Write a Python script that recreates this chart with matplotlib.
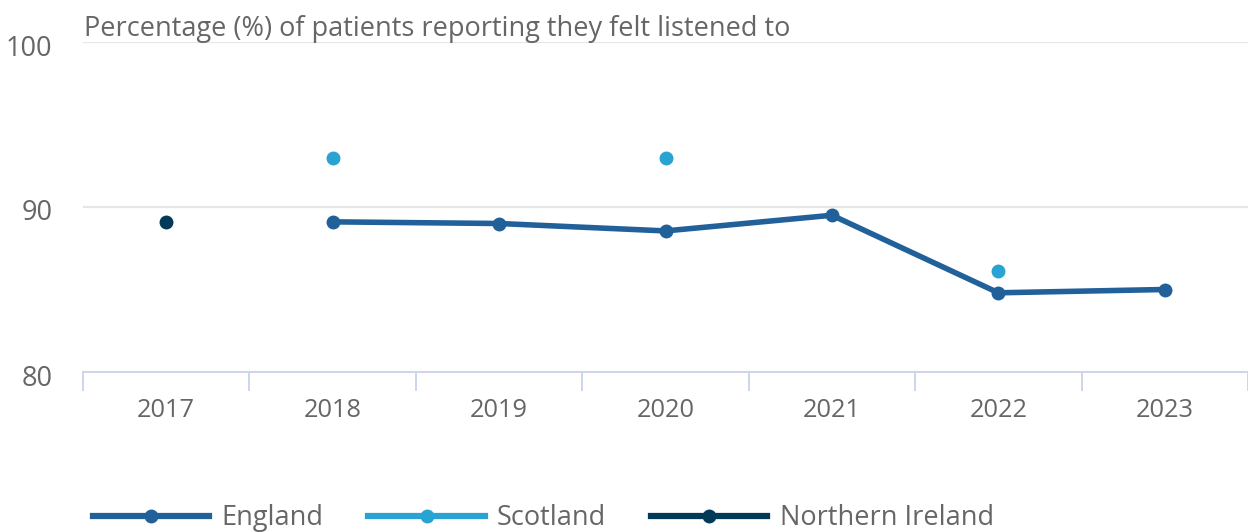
import matplotlib
matplotlib.use("Agg")
import matplotlib.pyplot as plt
import matplotlib.transforms as mtransforms
import numpy as np
from matplotlib.lines import Line2D

years = ["2017", "2018", "2019", "2020", "2021", "2022", "2023"]
england = [None, 89.1, 89.0, 88.55, 89.5, 84.8, 85.0]
scotland = [None, 93.0, None, 93.0, None, 86.1, None]
northern_ireland = [89.1, None, None, None, None, None, None]

title = "Percentage (%) of patients reporting they felt listened to"
y_ticks = [80, 90, 100]

C_ENG = "#22609a"
C_SCO = "#29a3d1"
C_NI = "#033a57"
TXT = "#666666"

plt.rcParams["font.family"] = ["Open Sans", "DejaVu Sans"]

fig = plt.figure(figsize=(12.48, 5.32), dpi=100)
W, H = 1248, 532
ax = fig.add_axes([83 / W, 1 - 372 / H, (1248 - 83) / W, (372 - 42) / H])

x = np.arange(len(years))

def series(vals):
    xs = [i for i, v in enumerate(vals) if v is not None]
    ys = [v for v in vals if v is not None]
    return np.array(xs), np.array(ys)

ex, ey = series(england)
ax.plot(ex, ey, color=C_ENG, lw=4.0, marker="o", ms=9, solid_capstyle="round", zorder=4)
sx, sy = series(scotland)
ax.plot(sx, sy, color=C_SCO, lw=0, marker="o", ms=9, zorder=5)
nx, ny = series(northern_ireland)
ax.plot(nx, ny, color=C_NI, lw=0, marker="o", ms=9, zorder=5)

ax.set_xlim(-0.5, len(years) - 0.5)
ax.set_ylim(80, 100)
ax.set_yticks(y_ticks)
ax.set_yticklabels([str(t) for t in y_ticks])
ax.yaxis.grid(True, color="#e6e6e6", lw=1.6)
ax.set_axisbelow(True)
ax.tick_params(axis="y", length=0, labelsize=19.5, labelcolor=TXT, pad=22)
shift = mtransforms.ScaledTranslation(0, -3 / 100, fig.dpi_scale_trans)
for lab in ax.get_yticklabels():
    lab.set_transform(lab.get_transform() + shift)

ax.set_xticks(x)
ax.set_xticklabels(years)
ax.set_xticks(np.arange(-0.5, len(years)), minor=True)
ax.tick_params(axis="x", which="major", length=0, labelsize=18.3, labelcolor=TXT, pad=19)
ax.tick_params(axis="x", which="minor", length=14, width=1.4, color="#ccd6eb")

for s in ["top", "right", "left"]:
    ax.spines[s].set_visible(False)
ax.spines["bottom"].set_color("#ccd6eb")
ax.spines["bottom"].set_linewidth(1.4)
ax.spines["bottom"].set_zorder(1)

fig.text(84 / W, 1 - 29 / H, title, fontsize=19.5, color=TXT, va="center", ha="left")

handles = [
    Line2D([], [], color=C_ENG, lw=4.5, marker="o", ms=9),
    Line2D([], [], color=C_SCO, lw=4.5, marker="o", ms=9),
    Line2D([], [], color=C_NI, lw=4.5, marker="o", ms=9),
]
leg = fig.legend(handles, ["England", "Scotland", "Northern Ireland"], loc="center left",
                 bbox_to_anchor=(93 / W, 1 - 518 / H), ncol=3, frameon=False,
                 fontsize=19.5, handlelength=4.3, handletextpad=0.45, columnspacing=1.65,
                 borderpad=0, borderaxespad=0)
for t in leg.get_texts():
    t.set_color(TXT)

fig.savefig("out.png", dpi=100)
